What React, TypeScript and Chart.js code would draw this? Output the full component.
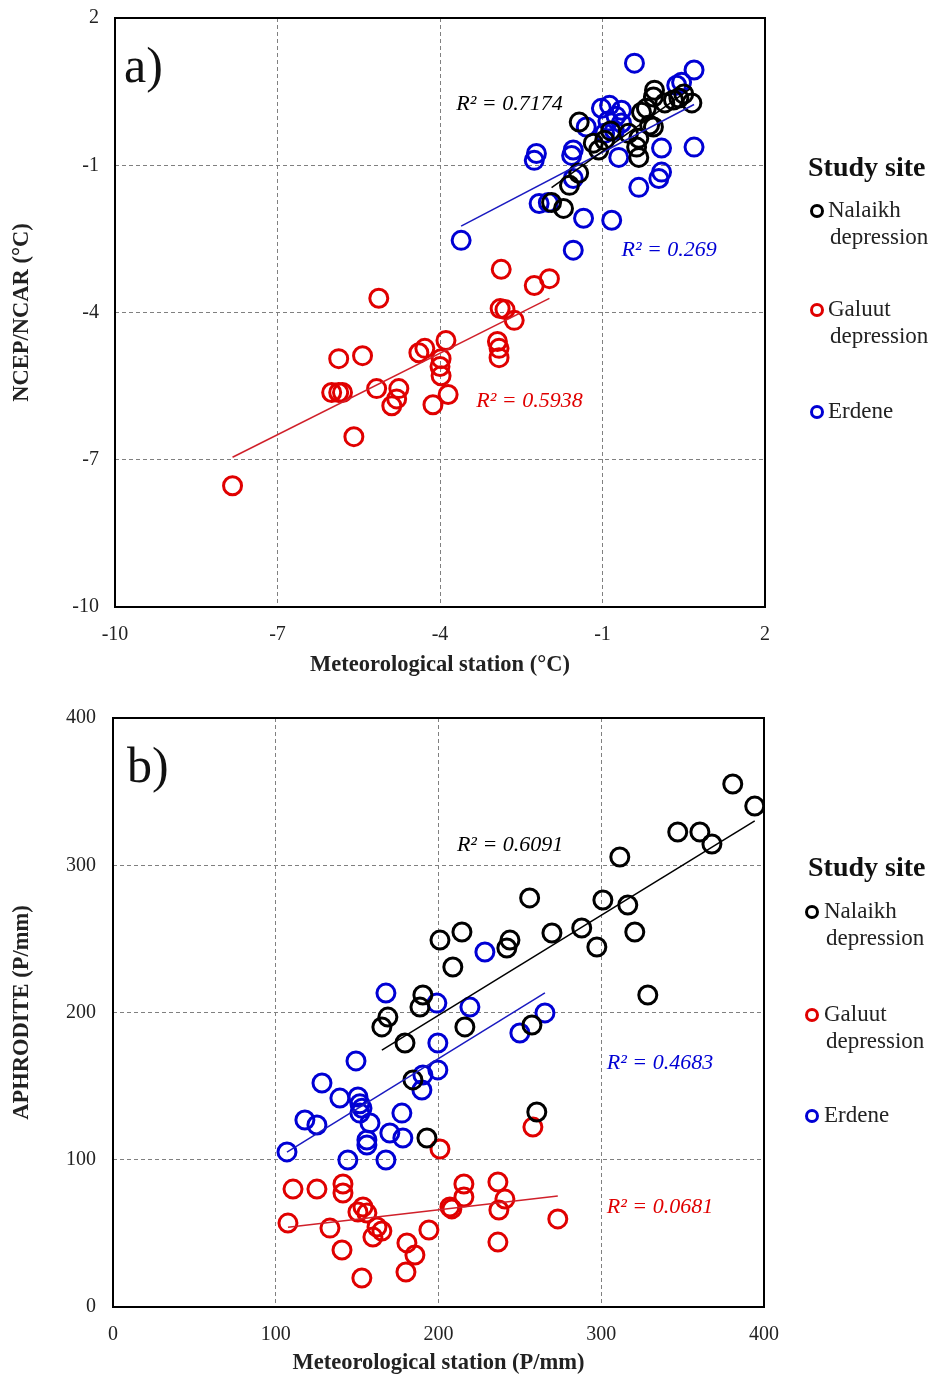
import React, { useEffect, useRef } from "react";
import { Chart, registerables } from "chart.js";
Chart.register(...registerables);

type Pair = [number, number];

// ---------- shared ----------
const SITE_NAMES = ["Nalaikh depression", "Galuut depression", "Erdene"];
const SITE_COLORS = ["#000000", "#e00000", "#0000d4"];
const LINE_COLORS = ["#000000", "#d0202a", "#1a1ac0"];

// ---------- panel a (temperature) ----------
const A_TICKS = [-10, -7, -4, -1, 2];
const A_NALAIKH: Pair[] = [
  [-0.04, 0.53], [-0.06, 0.39], [0.65, 0.27], [0.31, 0.33], [0.41, 0.37], [0.15, 0.27],
  [-0.19, 0.16], [-0.28, 0.08], [-0.13, -0.18], [-0.06, -0.22], [-0.33, -0.45], [-0.37, -0.63],
  [-0.33, -0.84], [-1.07, -0.69], [-1.17, -0.55], [-1.43, -0.12], [-0.96, -0.49], [-0.52, -0.35],
  [-1.61, -1.41], [-1.72, -1.88], [-1.94, -1.76], [-1.44, -1.16], [0.5, 0.45], [-0.85, -0.3],
];
const A_GALUUT: Pair[] = [
  [-7.83, -7.53], [-5.59, -6.53], [-5.13, -3.71], [-5.87, -4.94], [-5.43, -4.88], [-6.0, -5.63],
  [-5.87, -5.63], [-5.8, -5.63], [-5.17, -5.55], [-4.76, -5.55], [-4.8, -5.76], [-4.89, -5.9],
  [-4.39, -4.82], [-4.28, -4.73], [-3.89, -4.57], [-3.98, -4.94], [-4.0, -5.1], [-3.98, -5.29],
  [-4.13, -5.88], [-3.85, -5.67], [-2.87, -3.12], [-2.89, -3.92], [-2.8, -3.94], [-2.94, -4.59],
  [-2.91, -4.73], [-2.91, -4.92], [-2.63, -4.16], [-2.26, -3.45], [-1.98, -3.31],
];
const A_ERDENE: Pair[] = [
  [-0.41, 1.08], [0.69, 0.94], [0.46, 0.69], [0.37, 0.63], [-1.3, -0.22], [-1.02, 0.16],
  [-0.87, 0.22], [-0.65, 0.12], [-0.96, -0.35], [-0.78, -0.29], [-0.65, -0.14], [-0.7, -0.84],
  [0.09, -0.65], [0.69, -0.63], [-2.22, -0.76], [-2.26, -0.9], [-1.54, -0.69], [-1.57, -0.8],
  [-1.54, -1.27], [-2.17, -1.78], [-2.0, -1.76], [-1.35, -2.08], [-0.83, -2.12], [-3.61, -2.53],
  [-1.54, -2.73], [-0.33, -1.45], [0.09, -1.14], [0.04, -1.27], [-0.9, -0.1], [-0.75, 0.0],
];
const A_R2 = ["R² = 0.7174", "R² = 0.5938", "R² = 0.269"];

// ---------- panel b (precipitation) ----------
const B_TICKS = [0, 100, 200, 300, 400];
const B_NALAIKH: Pair[] = [
  [380.8, 355.2], [394.3, 340.2], [347, 322.6], [360.6, 322.6], [368, 314.4], [311.4, 305.6],
  [256, 277.8], [301, 276.4], [316.3, 273], [320.6, 254.7], [288, 257.4], [269.7, 254],
  [297.3, 244.5], [243.9, 249.2], [242, 243.8], [214.4, 254.7], [200.9, 249.2], [208.8, 230.9],
  [328.6, 211.9], [190.4, 211.9], [188.6, 203.7], [168.9, 196.9], [165.2, 190.2], [216.2, 190.2],
  [257.4, 191.5], [179.4, 179.3], [184.3, 154.2], [192.9, 114.8], [260.4, 132.4],
];
const B_GALUUT: Pair[] = [
  [200.9, 107.3], [258, 122.2], [110.6, 80.1], [125.3, 80.1], [141.3, 83.5], [141.3, 77.4],
  [215.6, 83.5], [236.5, 84.9], [215.6, 74.7], [240.8, 73.3], [207, 67.9], [208.2, 66.6],
  [237.1, 65.9], [107.5, 57], [133.3, 53.6], [153.6, 67.9], [156, 63.8], [150.5, 64.5],
  [162.2, 54.3], [165.2, 51.6], [159.7, 47.5], [194.1, 52.3], [273.3, 59.8], [140.7, 38.7],
  [180.6, 43.5], [185.5, 35.3], [236.5, 44.1], [180, 23.8], [152.9, 19.7],
];
const B_ERDENE: Pair[] = [
  [228.5, 241.1], [167.7, 213.2], [199, 206.4], [219.3, 203.7], [265.4, 199.7], [250, 186.1],
  [199.6, 179.3], [149.3, 167.1], [128.4, 152.1], [139.4, 141.9], [150.5, 142.6], [151.7, 138],
  [151.7, 131.7], [153, 135], [157.9, 125], [117.9, 127], [125.3, 123.6], [106.9, 105.3],
  [177.5, 131.7], [156, 113.4], [156, 110], [170.1, 118.2], [178.1, 114.8], [199.6, 161],
  [190.4, 157.6], [189.8, 147.4], [144.3, 99.8], [167.7, 99.8],
];
const B_R2 = ["R² = 0.6091", "R² = 0.0681", "R² = 0.4683"];

// ---------- helpers ----------
const toPts = (arr: Pair[]) => arr.map(([x, y]) => ({ x, y }));

function trend(arr: Pair[]) {
  const n = arr.length;
  let sx = 0, sy = 0, sxx = 0, sxy = 0;
  let minX = Infinity, maxX = -Infinity;
  for (const [x, y] of arr) {
    sx += x; sy += y; sxx += x * x; sxy += x * y;
    if (x < minX) minX = x;
    if (x > maxX) maxX = x;
  }
  const slope = (n * sxy - sx * sy) / (n * sxx - sx * sx);
  const icpt = (sy - slope * sx) / n;
  return [
    { x: minX, y: icpt + slope * minX },
    { x: maxX, y: icpt + slope * maxX },
  ];
}

const FONT = '"Liberation Serif", "Times New Roman", serif';

const decorPlugin = {
  id: "decor",
  afterDraw(chart: any, _args: any, opts: any) {
    const ctx = chart.ctx as CanvasRenderingContext2D;
    const { left, top, right, bottom } = chart.chartArea;
    ctx.save();
    ctx.strokeStyle = "#000";
    ctx.lineWidth = 2;
    ctx.strokeRect(left, top, right - left, bottom - top);

    ctx.fillStyle = "#111";
    ctx.textAlign = "left";
    ctx.textBaseline = "middle";
    ctx.font = `50px ${FONT}`;
    ctx.fillText(opts.tag, left + opts.tagDx, top + opts.tagDy);

    const xs = chart.scales.x;
    const ys = chart.scales.y;
    const sites = chart.data.datasets.filter((d: any) => d.isSite);
    ctx.font = `italic 22px ${FONT}`;
    opts.r2.forEach((t: string, i: number) => {
      ctx.fillStyle = sites[i].borderColor;
      ctx.fillText(t, xs.getPixelForValue(opts.r2Pos[i][0]), ys.getPixelForValue(opts.r2Pos[i][1]));
    });

    const lg = opts.legend;
    ctx.fillStyle = "#111";
    ctx.font = `bold 28px ${FONT}`;
    ctx.fillText("Study site", lg.x, lg.titleY);
    ctx.font = `23px ${FONT}`;
    sites.forEach((ds: any, i: number) => {
      const y = lg.itemYs[i];
      ctx.beginPath();
      ctx.arc(lg.markerX, y, 5.5, 0, Math.PI * 2);
      ctx.lineWidth = 3;
      ctx.strokeStyle = ds.borderColor;
      ctx.stroke();
      ctx.fillStyle = "#222";
      String(ds.label).split(" ").forEach((w: string, j: number) => {
        ctx.fillText(w, lg.textX + (j ? 2 : 0), y + j * 27);
      });
    });
    ctx.restore();
  },
};

type PanelCfg = {
  series: Pair[][];
  ticks: number[];
  r2: string[];
  r2Pos: Pair[];
  tag: string;
  xTitle: string;
  yTitle: string;
  top: number;
  leftW: number;
  rightPad: number;
  bottomH: number;
  xTitlePad: number;
  xTickPad: number;
  yTickPad: number;
  tagDx: number;
  tagDy: number;
  legend: { x: number; titleY: number; markerX: number; textX: number; itemYs: number[] };
};

function Panel({ cfg }: { cfg: PanelCfg }) {
  const ref = useRef<HTMLCanvasElement | null>(null);
  useEffect(() => {
    if (!ref.current) return;
    const siteSets = cfg.series.map((s, i) => ({
      type: "scatter" as const,
      label: SITE_NAMES[i],
      isSite: true,
      data: toPts(s),
      borderColor: SITE_COLORS[i],
      backgroundColor: "rgba(0,0,0,0)",
      pointRadius: 9,
      pointBorderWidth: 3,
      pointHoverRadius: 9,
      order: 2,
    }));
    const lineSets = cfg.series.map((s, i) => ({
      type: "scatter" as const,
      label: SITE_NAMES[i] + " trend",
      data: trend(s),
      showLine: true,
      borderColor: LINE_COLORS[i],
      borderWidth: 1.5,
      pointRadius: 0,
      order: 1,
    }));
    const tk = cfg.ticks;
    const step = tk[1] - tk[0];
    const tickFont = { family: FONT, size: 20 };
    const titleFont = { family: FONT, size: 22.5, weight: "bold" as const };
    const chart = new Chart(ref.current, {
      type: "scatter",
      data: { datasets: [...siteSets, ...lineSets] as any },
      plugins: [decorPlugin as any],
      options: {
        animation: false,
        responsive: false,
        devicePixelRatio: 1,
        layout: { padding: { left: 0, right: cfg.rightPad, top: cfg.top, bottom: 0 } },
        plugins: {
          legend: { display: false },
          tooltip: { enabled: false },
          decor: {
            tag: cfg.tag,
            tagDx: cfg.tagDx,
            tagDy: cfg.tagDy,
            r2: cfg.r2,
            r2Pos: cfg.r2Pos,
            legend: cfg.legend,
          },
        } as any,
        scales: {
          x: {
            type: "linear",
            min: tk[0],
            max: tk[tk.length - 1],
            ticks: { stepSize: step, font: tickFont, color: "#222", padding: cfg.xTickPad, maxRotation: 0 },
            grid: { color: "#808080", lineWidth: 1, drawTicks: false },
            border: { display: false, dash: [4, 3] },
            title: {
              display: true,
              text: cfg.xTitle,
              font: titleFont,
              color: "#222",
              padding: { top: 0, bottom: cfg.xTitlePad },
            },
            afterFit: (s: any) => {
              s.height = cfg.bottomH;
              s.paddingLeft = 0;
              s.paddingRight = 0;
            },
          },
          y: {
            type: "linear",
            min: tk[0],
            max: tk[tk.length - 1],
            ticks: { stepSize: step, font: tickFont, color: "#222", padding: cfg.yTickPad },
            grid: { color: "#808080", lineWidth: 1, drawTicks: false },
            border: { display: false, dash: [4, 3] },
            title: {
              display: true,
              text: cfg.yTitle,
              font: titleFont,
              color: "#222",
              padding: { top: 9, bottom: 0 },
            },
            afterFit: (s: any) => {
              s.width = cfg.leftW;
              s.paddingTop = 0;
              s.paddingBottom = 0;
            },
          },
        },
      } as any,
    });
    return () => chart.destroy();
  }, [cfg]);
  return <canvas ref={ref} width={937} height={690} style={{ display: "block" }} />;
}

const PANEL_A: PanelCfg = {
  series: [A_NALAIKH, A_GALUUT, A_ERDENE],
  ticks: A_TICKS,
  r2: A_R2,
  r2Pos: [[-3.7, 0.245], [-3.33, -5.8], [-0.65, -2.73]],
  tag: "a)",
  xTitle: "Meteorological station (°C)",
  yTitle: "NCEP/NCAR (°C)",
  top: 18,
  leftW: 115,
  rightPad: 172,
  bottomH: 83,
  xTitlePad: 11.5,
  xTickPad: 16,
  yTickPad: 16,
  tagDx: 9,
  tagDy: 51,
  legend: { x: 808, titleY: 169, markerX: 817, textX: 828, itemYs: [211, 310, 412] },
};

const PANEL_B: PanelCfg = {
  series: [B_NALAIKH, B_GALUUT, B_ERDENE],
  ticks: B_TICKS,
  r2: B_R2,
  r2Pos: [[211.3, 313.8], [303.4, 67.9], [303.4, 165.7]],
  tag: "b)",
  xTitle: "Meteorological station (P/mm)",
  yTitle: "APHRODITE (P/mm)",
  top: 28,
  leftW: 113,
  rightPad: 173,
  bottomH: 73,
  xTitlePad: 3.5,
  xTickPad: 16,
  yTickPad: 17,
  tagDx: 14,
  tagDy: 51,
  legend: { x: 808, titleY: 179, markerX: 812, textX: 824, itemYs: [222, 325, 426] },
};

export default function App() {
  return (
    <div style={{ position: "absolute", left: 0, top: 0, width: 937, height: 1380, background: "#fff" }}>
      <Panel cfg={PANEL_A} />
      <Panel cfg={PANEL_B} />
    </div>
  );
}
